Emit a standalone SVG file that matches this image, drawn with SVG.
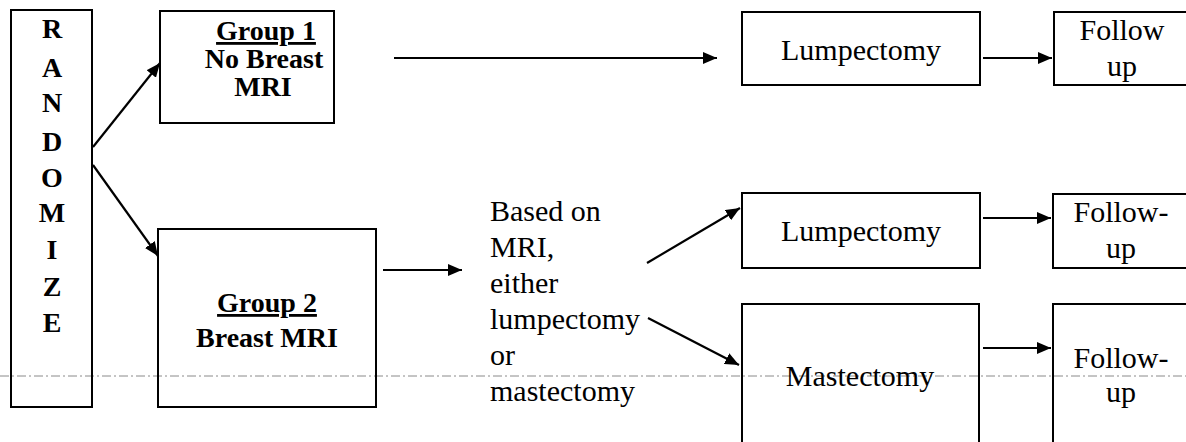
<svg xmlns="http://www.w3.org/2000/svg" width="1186" height="442" viewBox="0 0 1186 442">
<style>
text{fill:#000;font-family:'Liberation Serif','Times New Roman',serif}
.box{fill:none;stroke:#000;stroke-width:2}
.b{font-weight:bold;font-size:28px;text-anchor:middle}
.r{font-size:30px;text-anchor:middle}
.l{font-size:30px}
.rl{font-weight:bold;font-size:28px;text-anchor:middle}
.u{text-decoration:underline}
.c{stroke:#000;stroke-width:2.2;fill:none;marker-end:url(#ah)}
.brk{stroke:#8a8a8a;stroke-width:1;stroke-dasharray:9 3 2 3}
</style>
<defs>
<marker id="ah" markerUnits="userSpaceOnUse" markerWidth="15" markerHeight="12" refX="14" refY="6" orient="auto">
<path d="M0,0 L14,6 L0,12 z" fill="#000"/>
</marker>
</defs>
<rect width="1186" height="442" fill="#fff"/>
<line class="brk" x1="0" y1="376" x2="1186" y2="376"/>
<g id="randomize">
<rect class="box" x="11" y="10" width="81" height="397"/>
<text class="rl" x="52" y="38">R</text>
<text class="rl" x="52" y="77">A</text>
<text class="rl" x="52" y="112">N</text>
<text class="rl" x="52" y="151">D</text>
<text class="rl" x="52" y="187">O</text>
<text class="rl" x="52" y="222">M</text>
<text class="rl" x="52" y="259">I</text>
<text class="rl" x="52" y="296">Z</text>
<text class="rl" x="52" y="332">E</text>
</g>
<g id="group1">
<rect class="box" x="160" y="11" width="174" height="112"/>
<text class="b" x="266" y="40"><tspan class="u">Group 1</tspan></text>
<text class="b" x="264" y="68">No Breast</text>
<text class="b" x="263" y="96">MRI</text>
</g>
<g id="group2">
<rect class="box" x="158" y="229" width="218" height="178"/>
<text class="b" x="267" y="312"><tspan class="u">Group 2</tspan></text>
<text class="b" x="267" y="347">Breast MRI</text>
</g>
<g id="decision">
<text class="l" x="490" y="221">Based on</text>
<text class="l" x="490" y="257">MRI,</text>
<text class="l" x="490" y="293">either</text>
<text class="l" x="490" y="329">lumpectomy</text>
<text class="l" x="490" y="365">or</text>
<text class="l" x="490" y="401">mastectomy</text>
</g>
<g id="lumpectomy1">
<rect class="box" x="742" y="12" width="238" height="73"/>
<text class="r" x="861" y="60">Lumpectomy</text>
</g>
<g id="followup1">
<rect class="box" x="1054" y="12" width="140" height="73"/>
<text class="r" x="1122" y="40">Follow</text>
<text class="r" x="1122" y="76">up</text>
</g>
<g id="lumpectomy2">
<rect class="box" x="742" y="193" width="238" height="75"/>
<text class="r" x="861" y="241">Lumpectomy</text>
</g>
<g id="followup2">
<rect class="box" x="1053" y="194" width="140" height="74"/>
<text class="r" x="1121" y="222">Follow-</text>
<text class="r" x="1121" y="258">up</text>
</g>
<g id="mastectomy">
<rect class="box" x="742" y="304" width="237" height="150"/>
<text class="r" x="860" y="386">Mastectomy</text>
</g>
<g id="followup3">
<rect class="box" x="1053" y="304" width="140" height="150"/>
<text class="r" x="1121" y="368">Follow-</text>
<text class="r" x="1121" y="402">up</text>
</g>
<g id="connectors">
<line class="c" x1="93" y1="147" x2="160" y2="63"/>
<line class="c" x1="93" y1="165" x2="158" y2="256"/>
<line class="c" x1="394" y1="58" x2="717" y2="58"/>
<line class="c" x1="983" y1="58" x2="1052" y2="58"/>
<line class="c" x1="383" y1="270" x2="462" y2="270"/>
<line class="c" x1="647" y1="263" x2="740" y2="208"/>
<line class="c" x1="648" y1="318" x2="739" y2="365"/>
<line class="c" x1="983" y1="218" x2="1051" y2="218"/>
<line class="c" x1="983" y1="348" x2="1051" y2="348"/>
</g>
</svg>
